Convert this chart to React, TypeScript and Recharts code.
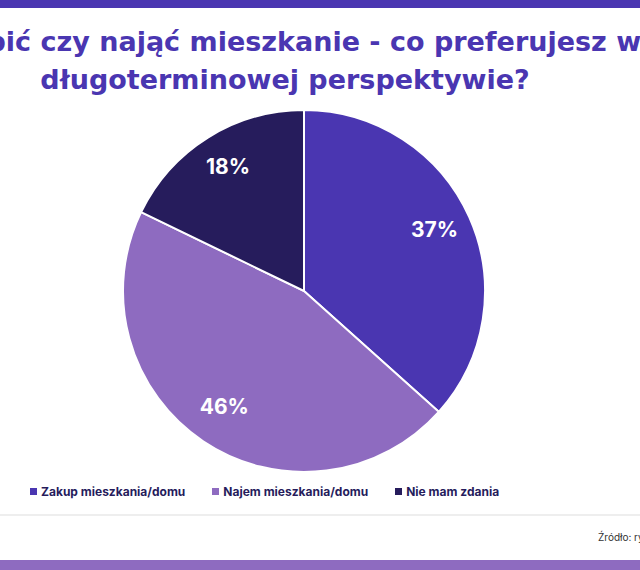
import { PieChart, Pie, Cell, Legend } from "recharts";

const categories = ["Zakup mieszkania/domu", "Najem mieszkania/domu", "Nie mam zdania"];
const shares = [37, 46, 18];
const colors = ["#4a36b1", "#8e6bc0", "#261c5c"];

const titleLine1 = "Kupić czy nająć mieszkanie - co preferujesz w";
const titleLine2 = "długoterminowej perspektywie?";
const sourceText = "Źródło: rynekpierwotny.pl";

const FONT = "Inter, 'Noto Sans', sans-serif";
const TITLE_FONT = "'DejaVu Sans', Inter, sans-serif";
const RAD = Math.PI / 180;

const data = categories.map((name, i) => ({ name, value: shares[i] }));

function renderLabel(props: any) {
  const { cx, cy, midAngle, outerRadius, value } = props;
  const r = outerRadius * 0.79;
  const x = cx + r * Math.cos(-midAngle * RAD);
  const y = cy + r * Math.sin(-midAngle * RAD) - 3;
  return (
    <text
      x={x}
      y={y}
      fill="#ffffff"
      textAnchor="middle"
      dominantBaseline="central"
      fontFamily={FONT}
      fontWeight={700}
      fontSize={21}
    >
      {value}%
    </text>
  );
}

function LegendContent() {
  return (
    <div style={{ display: "flex", gap: 27, fontFamily: FONT, fontWeight: 700, fontSize: 12, color: "#261c5c" }}>
      {data.map((d, i) => (
        <div key={d.name} style={{ display: "flex", alignItems: "center", whiteSpace: "nowrap" }}>
          <span style={{ width: 7, height: 7, background: colors[i], marginRight: 4, display: "inline-block" }} />
          {d.name}
        </div>
      ))}
    </div>
  );
}

export default function App() {
  return (
    <div style={{ position: "absolute", left: 0, top: 0, width: 640, height: 570, overflow: "hidden", background: "#ffffff" }}>
      <div style={{ position: "absolute", left: 0, top: 0, width: 640, height: 8, background: "#4a36b1" }} />
      <div
        style={{
          position: "absolute",
          left: -200,
          width: 1000,
          top: 23,
          textAlign: "center",
          fontFamily: TITLE_FONT,
          fontWeight: 700,
          fontSize: 27,
          lineHeight: "38px",
          color: "#4a36b1",
          whiteSpace: "nowrap",
        }}
      >
        <div style={{ marginLeft: -12 }}>{titleLine1}</div>
        <div style={{ marginLeft: -30 }}>{titleLine2}</div>
      </div>
      <div style={{ position: "absolute", left: 0, top: 0 }}>
        <PieChart width={640} height={570} margin={{ top: 0, right: 0, bottom: 0, left: 0 }}>
          <Pie
            data={data}
            dataKey="value"
            nameKey="name"
            cx={304}
            cy={291}
            outerRadius={181}
            startAngle={90}
            endAngle={-270}
            stroke="#ffffff"
            strokeWidth={2}
            label={renderLabel}
            labelLine={false}
            isAnimationActive={false}
          >
            {data.map((d, i) => (
              <Cell key={d.name} fill={colors[i]} />
            ))}
          </Pie>
          <Legend content={<LegendContent />} wrapperStyle={{ position: "absolute", left: 30, top: 484, width: "auto" }} />
        </PieChart>
      </div>
      <div style={{ position: "absolute", left: 0, top: 514, width: 640, height: 2, background: "#eeeeee" }} />
      <div
        style={{
          position: "absolute",
          left: 598,
          top: 531,
          fontFamily: FONT,
          fontSize: 10,
          color: "#333333",
          whiteSpace: "nowrap",
        }}
      >
        {sourceText}
      </div>
      <div style={{ position: "absolute", left: 0, top: 560, width: 640, height: 10, background: "#8e6bc0" }} />
    </div>
  );
}
